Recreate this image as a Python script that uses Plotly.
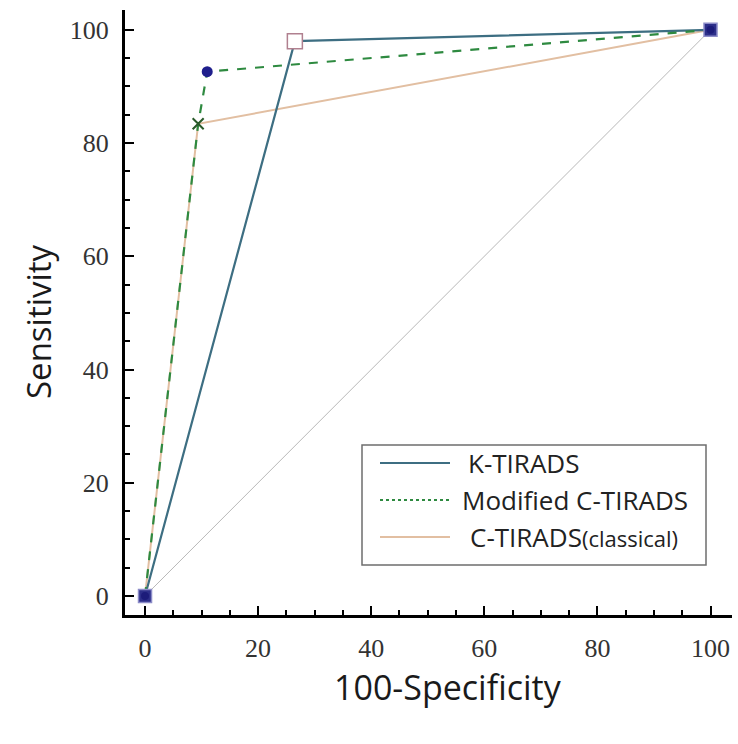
import plotly.graph_objects as go

# ROC data (100-Specificity, Sensitivity)
k_x = [0, 26.5, 100]
k_y = [0, 98.0, 100]
mod_x = [0, 9.4, 11.0, 100]
mod_y = [0, 83.4, 92.6, 100]
cls_x = [0, 9.4, 100]
cls_y = [0, 83.4, 100]
diag_x = [0, 100]
diag_y = [0, 100]
end_x = [0, 100]
end_y = [0, 100]
names = ["K-TIRADS", "Modified C-TIRADS", "C-TIRADS"]
name_suffix = ["", "", "(classical)"]
tick_vals = [0, 20, 40, 60, 80, 100]

colors = ["#3d6e82", "#2e8a40", "#e2bfa2"]
dashes = ["solid", "dash", "solid"]
widths = [2.2, 2.2, 2]

W, H = 738, 744
ML, MR, MT, MB = 125, 6, 10, 129
PW, PH = W - ML - MR, H - MT - MB


def px(xp):
    return (xp - ML) / PW


def py(yp):
    return (H - MB - yp) / PH


fig = go.Figure()
fig.add_trace(go.Scatter(x=diag_x, y=diag_y, mode="lines",
                         line=dict(color="#b8b8b8", width=1), showlegend=False))
fig.add_trace(go.Scatter(x=cls_x, y=cls_y, mode="lines", name=names[2],
                         line=dict(color=colors[2], width=widths[2]), showlegend=False))
fig.add_trace(go.Scatter(x=k_x, y=k_y, mode="lines", name=names[0],
                         line=dict(color=colors[0], width=widths[0]), showlegend=False))
fig.add_trace(go.Scatter(x=mod_x, y=mod_y, mode="lines", name=names[1],
                         line=dict(color=colors[1], width=widths[1], dash="dash"),
                         showlegend=False))
# markers
fig.add_trace(go.Scatter(x=end_x, y=end_y, mode="markers", showlegend=False,
                         marker=dict(symbol="square", size=13, color="#2d2f8a",
                                     line=dict(color="#8c8cc8", width=1.5))))
fig.add_trace(go.Scatter(x=end_x, y=end_y, mode="markers", showlegend=False,
                         marker=dict(symbol="circle", size=8, color="#1c1c7a")))
fig.add_trace(go.Scatter(x=[k_x[1]], y=[k_y[1]], mode="markers", showlegend=False,
                         marker=dict(symbol="square", size=15, color="white",
                                     line=dict(color="#b0808f", width=1.5))))
fig.add_trace(go.Scatter(x=[mod_x[2]], y=[mod_y[2]], mode="markers", showlegend=False,
                         marker=dict(symbol="circle", size=11, color="#1f1f8c")))
fig.add_trace(go.Scatter(x=[mod_x[1]], y=[mod_y[1]], mode="markers", showlegend=False,
                         marker=dict(symbol="x-thin", size=11, color="#2a5a2a",
                                     line=dict(color="#2a5a2a", width=2))))

axis_common = dict(
    showgrid=False, zeroline=False, showline=True, linecolor="black", linewidth=3,
    ticks="inside", ticklen=9, tickwidth=2, tickcolor="black",
    tickvals=tick_vals,
    tickfont=dict(family="Liberation Serif", size=26, color="#333333"),
    minor=dict(ticks="inside", ticklen=5, tickwidth=1.5, tickcolor="black", dtick=5),
)
fig.update_xaxes(range=[-3.54, 103.8], ticklabelstandoff=8, **axis_common)
fig.update_yaxes(range=[-3.36, 103.5], ticklabelstandoff=8, **axis_common)

# custom legend (box, line samples, labels)
shapes = [dict(type="rect", xref="paper", yref="paper",
               x0=px(362), x1=px(706), y0=py(565), y1=py(445),
               line=dict(color="#6e6e6e", width=1.5), fillcolor="white", layer="above")]
annotations = []
leg_y = [463, 500, 537]
text_x = [466, 460, 468]
for i in range(3):
    shapes.append(dict(type="line", xref="paper", yref="paper",
                       x0=px(380), x1=px(450), y0=py(leg_y[i]), y1=py(leg_y[i]),
                       line=dict(color=colors[i], width=widths[i],
                                 dash="dot" if dashes[i] == "dash" else "solid"),
                       layer="above"))
    label = names[i]
    if name_suffix[i]:
        label += "<span style='font-size:22px'>" + name_suffix[i] + "</span>"
    annotations.append(dict(text=label, x=px(text_x[i]), y=py(leg_y[i]),
                            xref="paper", yref="paper", xanchor="left",
                            yanchor="middle", showarrow=False,
                            font=dict(family="Open Sans", size=26, color="#222222")))

annotations.append(dict(text="100-Specificity", x=px(448), y=py(687), xref="paper",
                        yref="paper", xanchor="center", yanchor="middle",
                        showarrow=False,
                        font=dict(family="Open Sans", size=34, color="#1a1a1a")))
annotations.append(dict(text="Sensitivity", x=px(38), y=py(322), xref="paper",
                        yref="paper", xanchor="center", yanchor="middle",
                        textangle=-90, showarrow=False,
                        font=dict(family="Open Sans", size=33, color="#1a1a1a")))

fig.update_layout(
    width=W, height=H,
    margin=dict(l=ML, r=MR, t=MT, b=MB),
    plot_bgcolor="white", paper_bgcolor="white",
    showlegend=False,
    shapes=shapes, annotations=annotations,
)

fig.write_html("out.html")
